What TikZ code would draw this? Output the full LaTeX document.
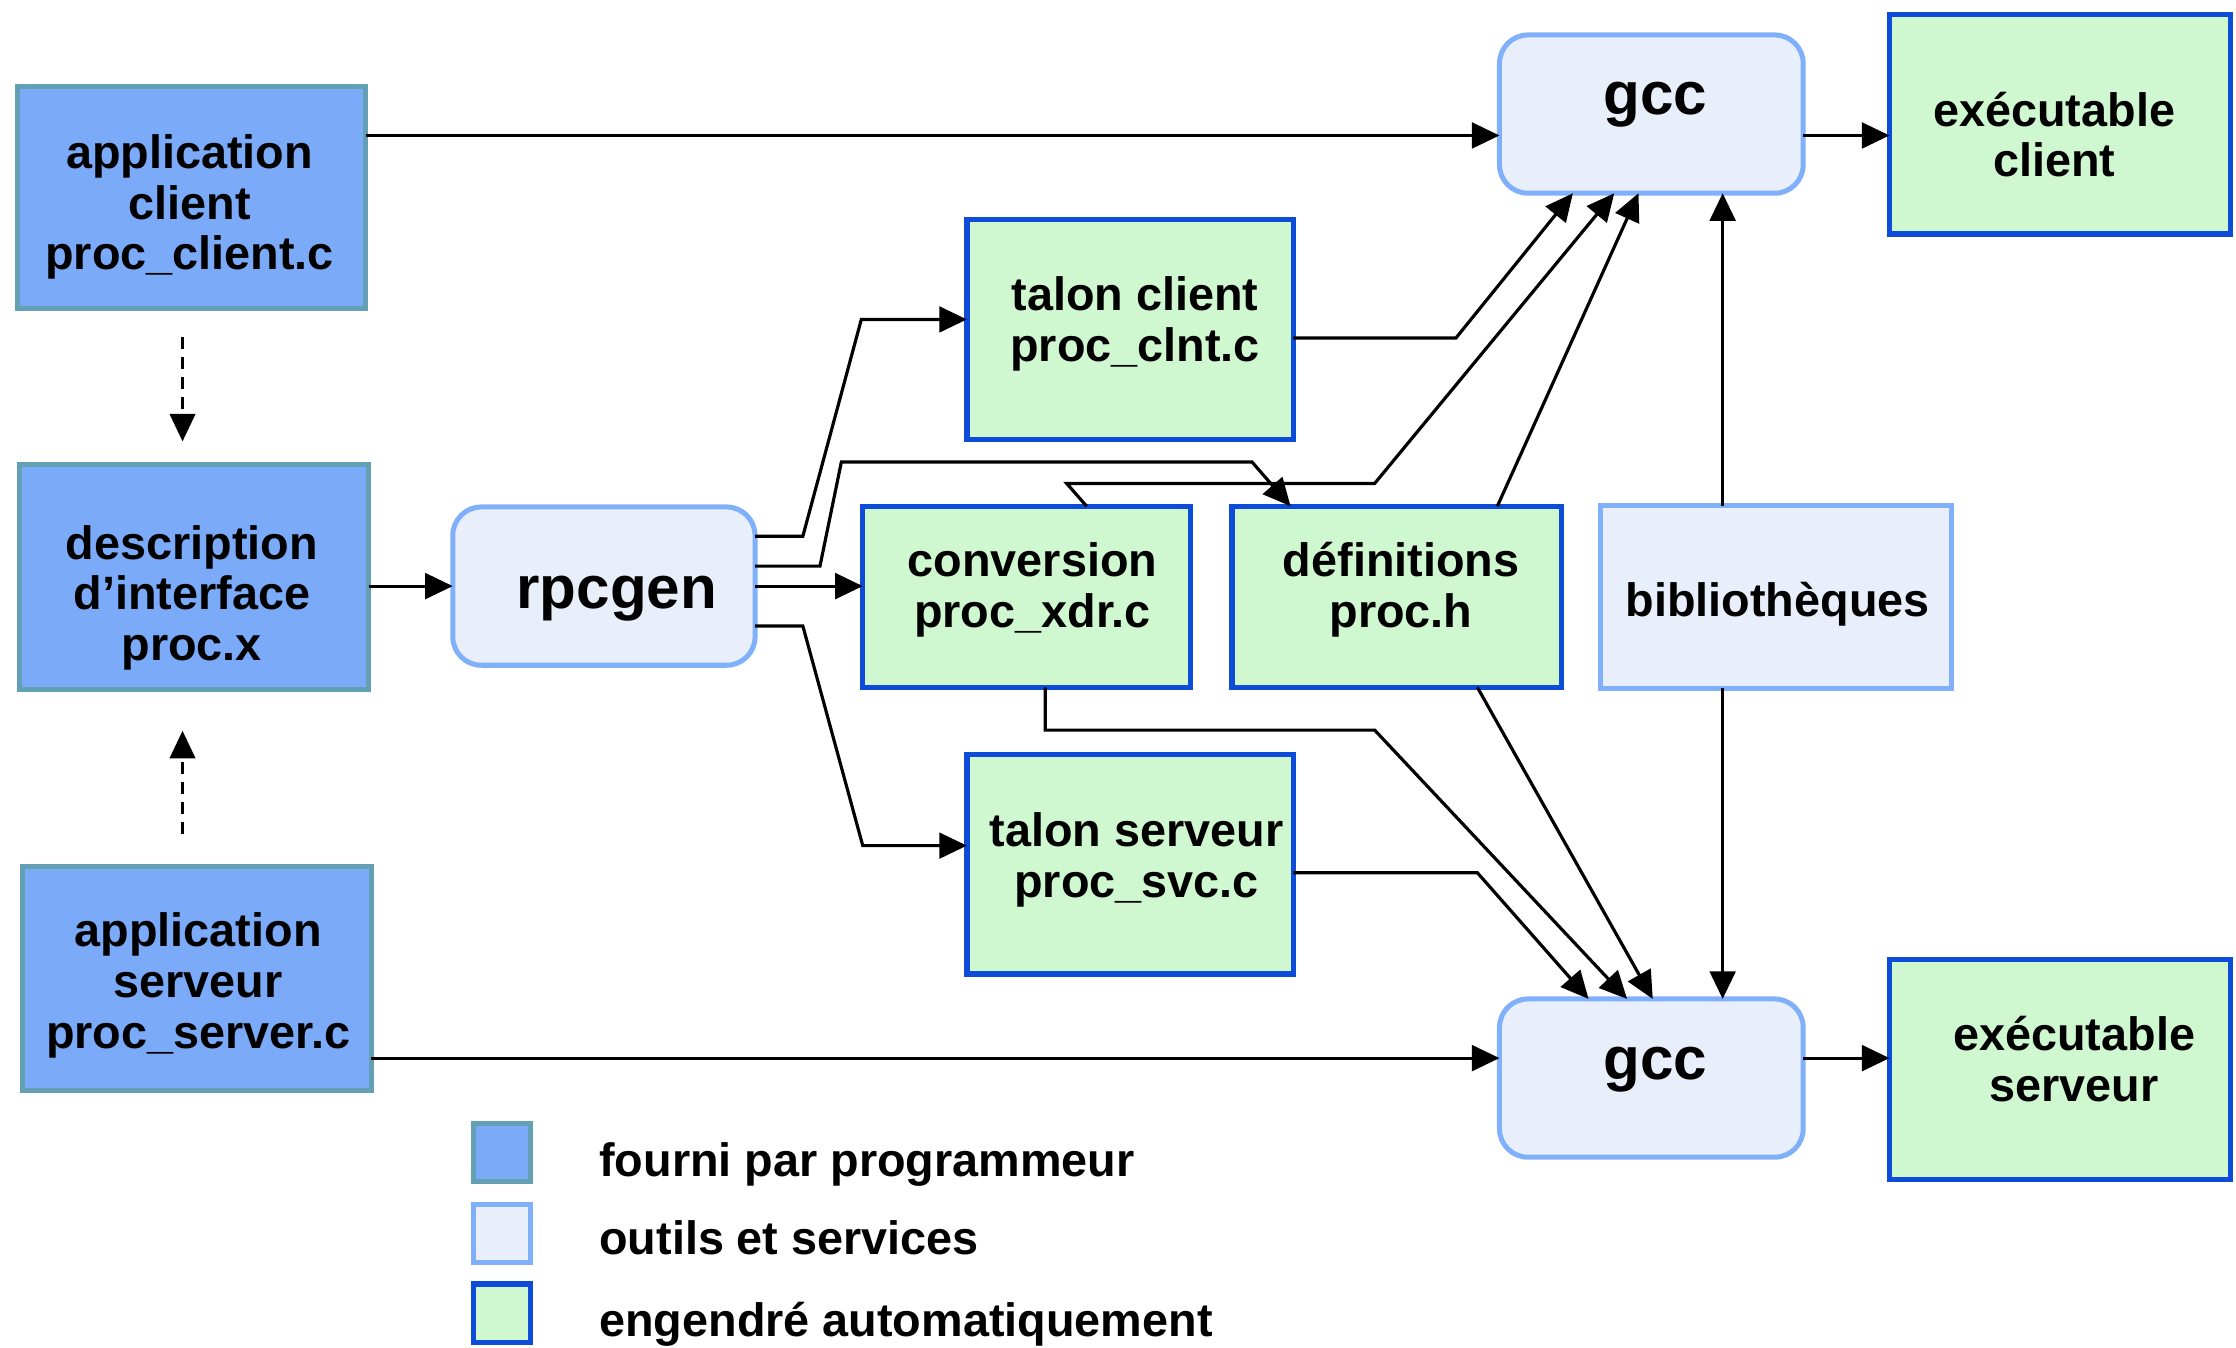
\documentclass[tikz,border=0pt]{standalone}
\usepackage{fontspec}
\setmainfont{Liberation Sans}
\usetikzlibrary{arrows.meta}
\definecolor{progfill}{HTML}{7AAAF8}
\definecolor{progborder}{HTML}{64A0B4}
\definecolor{toolfill}{HTML}{E8EFFB}
\definecolor{toolborder}{HTML}{80B0FA}
\definecolor{genfill}{HTML}{D0F8D0}
\definecolor{genborder}{HTML}{0C4CD8}
\newcommand\mltext[1]{\begin{tabular}[t]{@{}c@{}}#1\end{tabular}}
\begin{document}
\begin{tikzpicture}[x=0.03cm,y=-0.03cm,
  box/.style={inner sep=0pt, outer sep=0pt},
  sz/.style 2 args={minimum width=#1*0.03cm, minimum height=#2*0.03cm},
  prog/.style={box, draw=progborder, fill=progfill, line width=3pt},
  tool/.style={box, draw=toolborder, fill=toolfill, line width=3pt},
  toolr/.style={tool, rounded corners=0.6cm},
  gen/.style={box, draw=genborder, fill=genfill, line width=3.2pt},
  txt/.style={inner sep=0pt, anchor=base, font=\bfseries\fontsize{28pt}{30.4pt}\selectfont},
  bigtxt/.style={inner sep=0pt, anchor=base, font=\bfseries\fontsize{36pt}{40pt}\selectfont},
  arr/.style={line width=1.9pt, -{Triangle[length=0.58cm,width=0.54cm]}},
  dasharr/.style={line width=1.3pt, dash pattern=on 0.24cm off 0.18cm, -{Triangle[length=0.58cm,width=0.54cm]}},
  ]
\useasboundingbox (0,0) rectangle (1568,945);

% boxes
\node[prog, sz={244}{156}] (appc) at (134.5,138.5) {};
\node[prog, sz={245}{158}] (desc) at (136,404.5) {};
\node[prog, sz={245}{157}] (apps) at (138,686) {};
\node[toolr, sz={212}{111}] (rpcgen) at (423.5,411) {};
\node[gen, sz={229}{154}] (tclient) at (792.5,231) {};
\node[gen, sz={230}{127}] (conv) at (720,418.5) {};
\node[gen, sz={231}{127}] (defs) at (979.5,418.5) {};
\node[tool, sz={246}{128}] (biblio) at (1245.5,418.5) {};
\node[gen, sz={229}{154}] (tserv) at (792.5,606) {};
\node[toolr, sz={213}{111}] (gcc1) at (1158,80) {};
\node[toolr, sz={213}{111}] (gcc2) at (1158,756) {};
\node[gen, sz={239}{154}] (exc) at (1444.5,87) {};
\node[gen, sz={239}{154}] (exs) at (1444.5,750) {};
\node[prog, sz={40}{41}] (leg1) at (352,808) {};
\node[tool, sz={40}{41}] (leg2) at (352,865) {};
\node[gen, sz={40}{41}] (leg3) at (352,921) {};

% texts
\node[txt] (appcT) at (133,118) {\mltext{application\\client\\proc\_client.c}};
\node[txt] (descT) at (134.5,392) {\mltext{description\\d’interface\\proc.x}};
\node[txt] (appsT) at (139,664) {\mltext{application\\serveur\\proc\_server.c}};
\node[bigtxt] (rpcgenT) at (432.5,426.5) {rpcgen};
\node[txt] (tclientT) at (796,218) {\mltext{talon client\\proc\_clnt.c}};
\node[txt] (convT) at (724,404.5) {\mltext{conversion\\proc\_xdr.c}};
\node[txt] (defsT) at (982.5,404.5) {\mltext{définitions\\proc.h}};
\node[txt] (biblioT) at (1246.5,432.5) {bibliothèques};
\node[txt] (tservT) at (797,593.5) {\mltext{talon serveur\\proc\_svc.c}};
\node[bigtxt] (gcc1T) at (1161,80.5) {gcc};
\node[bigtxt] (gcc2T) at (1161,757) {gcc};
\node[txt] (excT) at (1440.5,88.5) {\mltext{exécutable\\client}};
\node[txt] (exsT) at (1454.5,736.5) {\mltext{exécutable\\serveur}};
\node[txt, anchor=base west] (leg1T) at (420,825) {fourni par programmeur};
\node[txt, anchor=base west] (leg2T) at (420,880) {outils et services};
\node[txt, anchor=base west] (leg3T) at (420,937) {engendré automatiquement};

% helper coordinates
\coordinate (hA) at (0,95);
\coordinate (hC) at (0,742);
\coordinate (hF1) at (0,376);
\coordinate (hF2) at (0,397);
\coordinate (hF4) at (0,439);
\coordinate (hG) at (0,237);
\coordinate (hN) at (0,612);
\coordinate (vD) at (128,0);
\coordinate (vF2) at (905,0);
\coordinate (vG) at (1103,0);
\coordinate (vH) at (1132,0);
\coordinate (vI) at (1149,0);
\coordinate (vJ) at (1208,0);
\coordinate (vL) at (1141,0);
\coordinate (vM) at (1159,0);
\coordinate (vN) at (1114,0);
\coordinate (vHs) at (762,0);
\coordinate (vIs) at (1050,0);
\coordinate (vLs) at (733,0);
\coordinate (vMs) at (1036,0);

% connectors
\draw[arr] (appc.east |- hA) -- (gcc1.west |- hA);
\draw[arr] (gcc1.east |- hA) -- (exc.west |- hA);
\draw[arr] (apps.east |- hC) -- (gcc2.west |- hC);
\draw[arr] (gcc2.east |- hC) -- (exs.west |- hC);

\draw[dasharr, shorten <=0.6cm, shorten >=0.48cm] (appc.south -| vD) -- (desc.north -| vD);
\draw[dasharr, shorten <=0.69cm, shorten >=0.87cm] (apps.north -| vD) -- (desc.south -| vD);

\draw[arr] (desc.east |- rpcgen.west) -- (rpcgen.west);

\draw[arr] (rpcgen.east |- hF1) -- (563,376) -- (604,224) -- (tclient.west |- 0,224);
\draw[arr] (rpcgen.east |- hF2) -- (575,397) -- (590,324) -- (878,324) -- (defs.north -| vF2);
\draw[arr] (rpcgen.east) -- (conv.west |- rpcgen.east);
\draw[arr] (rpcgen.east |- hF4) -- (563,439) -- (605,593) -- (tserv.west |- 0,593);

\draw[arr] (tclient.east |- hG) -- (1021,237) -- (gcc1.south -| vG);
\draw[arr] (conv.north -| vHs) -- (748,339) -- (964,339) -- (gcc1.south -| vH);
\draw[arr] (defs.north -| vIs) -- (gcc1.south -| vI);
\draw[arr] (biblio.north -| vJ) -- (gcc1.south -| vJ);
\draw[arr] (biblio.south -| vJ) -- (gcc2.north -| vJ);
\draw[arr] (conv.south -| vLs) -- (733,512) -- (964,512) -- (gcc2.north -| vL);
\draw[arr] (defs.south -| vMs) -- (gcc2.north -| vM);
\draw[arr] (tserv.east |- hN) -- (1036,612) -- (gcc2.north -| vN);
\end{tikzpicture}
\end{document}
